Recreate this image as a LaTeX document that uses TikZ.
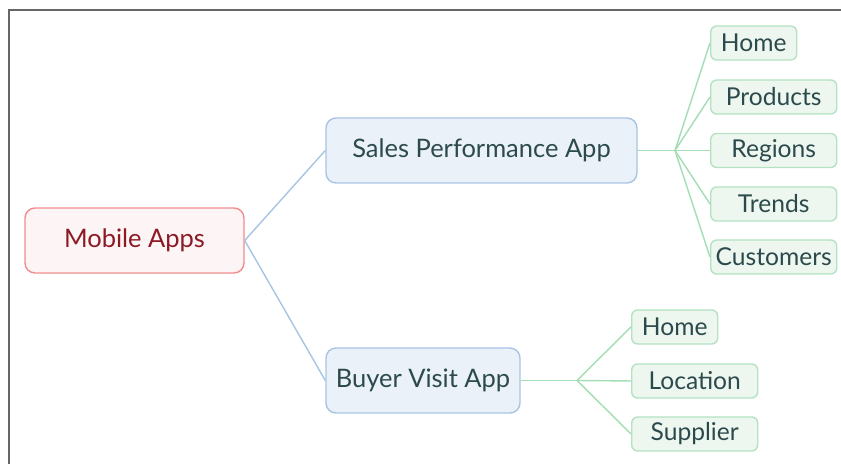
\documentclass[tikz,border=0pt]{standalone}
\usepackage{fontspec}
\setmainfont{Lato}
\usepackage{tikz}
\usetikzlibrary{positioning}

\definecolor{rootfill}{HTML}{FDF5F5}
\definecolor{rootdraw}{HTML}{F08C8F}
\definecolor{roottext}{HTML}{8B1A24}
\definecolor{appfill}{HTML}{EAF1F9}
\definecolor{appdraw}{HTML}{A8C4E3}
\definecolor{leaffill}{HTML}{EDF7F0}
\definecolor{leafdraw}{HTML}{B4E2C2}
\definecolor{leafline}{HTML}{A3DDB4}
\definecolor{darktext}{HTML}{2C4A4C}
\definecolor{frameline}{HTML}{666666}

\begin{document}
\begin{tikzpicture}[
    box/.style={draw, line width=0.8pt, rounded corners=0.2cm, minimum height=1.3cm, font=\fontsize{14.5}{17}\selectfont, inner sep=0pt},
    root/.style={box, fill=rootfill, draw=rootdraw, text=roottext, minimum width=4.38cm},
    app/.style={box, fill=appfill, draw=appdraw, text=darktext},
    leaf/.style={draw=leafdraw, fill=leaffill, text=darktext, line width=0.8pt, rounded corners=0.12cm, minimum height=0.68cm, anchor=west, inner sep=0pt, font=\fontsize{14}{16}\selectfont},
    blueline/.style={draw=appdraw, line width=0.8pt},
    greenline/.style={draw=leafline, line width=0.8pt},
]
\useasboundingbox (0,0) rectangle (16.82,9.28);
% frame
\draw[frameline, line width=1.1pt] (0.18,0) -- (0.18,9.08) -- (16.82,9.08);

% root and apps
\node[root] (mobile) at (2.69,4.47) {Mobile Apps};
\node[app, minimum width=6.22cm] (sales) at (9.63,6.27) {Sales Performance App};
\node[app, minimum width=3.88cm] (buyer) at (8.46,1.67) {Buyer Visit App};
\draw[blueline] (mobile.east) -- (sales.west);
\draw[blueline] (mobile.east) -- (buyer.west);

% sales app screens
\coordinate (sjoin) at (13.5,6.27);
\draw[greenline] (sales.east) -- (sjoin);
\foreach \n/\t/\y/\w in {sHome/Home/8.42/1.72, sProducts/Products/7.34/2.52, sRegions/Regions/6.27/2.52, sTrends/Trends/5.20/2.52, sCustomers/Customers/4.14/2.52} {
    \node[leaf, minimum width=\w cm] (\n) at (14.2,\y) {\t};
    \draw[greenline] (sjoin) -- (\n.west);
}

% buyer app screens
\coordinate (bjoin) at (11.54,1.67);
\draw[greenline] (buyer.east) -- (bjoin);
\foreach \n/\t/\y/\w in {bHome/Home/2.74/1.72, bLocation/Location/1.66/2.52, bSupplier/Supplier/0.60/2.52} {
    \node[leaf, minimum width=\w cm] (\n) at (12.62,\y) {\t};
    \draw[greenline] (bjoin) -- (\n.west);
}
\end{tikzpicture}
\end{document}
